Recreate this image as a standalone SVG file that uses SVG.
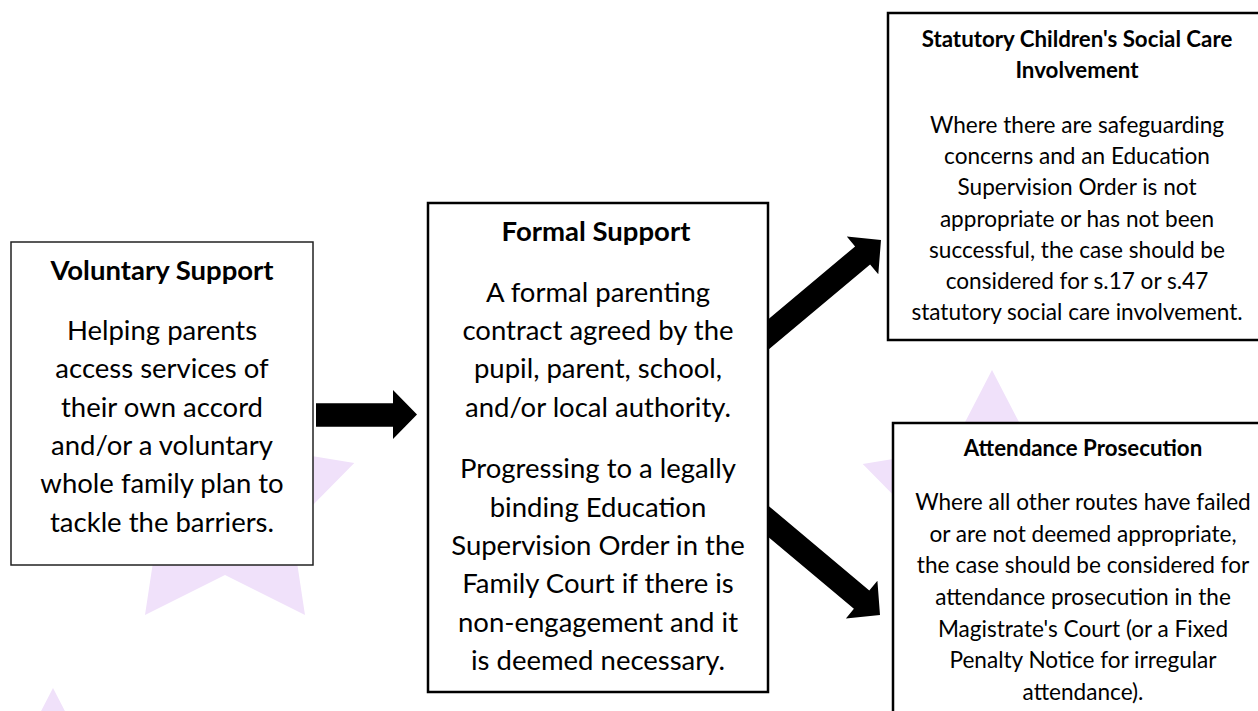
<svg xmlns="http://www.w3.org/2000/svg" width="1258" height="711" viewBox="0 0 1258 711">
  <style>
    .box { fill: #ffffff; stroke: #000000; stroke-width: 2.5; }
    .star { fill: #F0E1FA; stroke: none; }
    .arrow { fill: #000000; stroke: none; }
    text { font-family: Lato, "Liberation Sans", sans-serif; fill: #000000; text-anchor: middle; }
    .h1 { font-size: 27.5px; font-weight: bold; }
    .b1 { font-size: 27.5px; }
    .h2 { font-size: 22.3px; font-weight: bold; }
    .b2 { font-size: 22.6px; }
  </style>
  <defs>
    <polygon id="starShape" points="0,-136 41.1,-56.6 129.3,-42 66.6,21.6 80,110 0,70 -80,110 -66.6,21.6 -129.3,-42 -41.1,-56.6"/>
  </defs>
  <rect width="1258" height="711" fill="#ffffff"/>
  <g id="background">
    <use href="#starShape" class="star" transform="translate(225,505)"/>
    <use href="#starShape" class="star" transform="translate(992,506)"/>
    <use href="#starShape" class="star" transform="translate(53,824)"/>
  </g>
  <g id="connectors">
    <polygon class="arrow" points="316,403.3 393,403.3 393,390 417,414.5 393,439 393,426.7 316,426.7"/>
    <polygon class="arrow" points="768,319.5 855.1,246.4 846.8,236.6 881,240 878.3,274.2 870.1,264.4 768,350.1"/>
    <polygon class="arrow" points="768,505.4 869.3,590.4 877.4,580.8 880,615 845.9,618.4 853.9,608.8 768,536.7"/>
  </g>
  <g id="voluntary-support">
    <rect class="box" x="11" y="242" width="302" height="323" style="stroke-width:1.5;stroke:#222"/>
    <text class="h1" x="162" y="280">Voluntary Support</text>
    <text class="b1" x="162" y="340">Helping parents</text>
    <text class="b1" x="162" y="378">access services of</text>
    <text class="b1" x="162" y="417">their own accord</text>
    <text class="b1" x="162" y="455">and/or a voluntary</text>
    <text class="b1" x="162" y="493">whole family plan to</text>
    <text class="b1" x="162" y="532">tackle the barriers.</text>
  </g>
  <g id="formal-support">
    <rect class="box" x="428" y="203" width="340" height="489"/>
    <text class="h1" x="596" y="241">Formal Support</text>
    <text class="b1" x="598" y="302">A formal parenting</text>
    <text class="b1" x="598" y="340">contract agreed by the</text>
    <text class="b1" x="598" y="378">pupil, parent, school,</text>
    <text class="b1" x="598" y="417">and/or local authority.</text>
    <text class="b1" x="598" y="478">Progressing to a legally</text>
    <text class="b1" x="598" y="517">binding Education</text>
    <text class="b1" x="598" y="555">Supervision Order in the</text>
    <text class="b1" x="598" y="593">Family Court if there is</text>
    <text class="b1" x="598" y="632">non-engagement and it</text>
    <text class="b1" x="598" y="670">is deemed necessary.</text>
  </g>
  <g id="statutory-social-care">
    <rect class="box" x="888" y="13" width="385" height="327"/>
    <text class="h2" x="1077" y="47">Statutory Children's Social Care</text>
    <text class="h2" x="1077" y="78">Involvement</text>
    <text class="b2" x="1077" y="133">Where there are safeguarding</text>
    <text class="b2" x="1077" y="164">concerns and an Education</text>
    <text class="b2" x="1077" y="195">Supervision Order is not</text>
    <text class="b2" x="1077" y="227">appropriate or has not been</text>
    <text class="b2" x="1077" y="258">successful, the case should be</text>
    <text class="b2" x="1077" y="289">considered for s.17 or s.47</text>
    <text class="b2" x="1077" y="320">statutory social care involvement.</text>
  </g>
  <g id="attendance-prosecution">
    <rect class="box" x="893" y="423" width="385" height="310"/>
    <text class="h2" x="1083" y="456">Attendance Prosecution</text>
    <text class="b2" x="1083" y="510">Where all other routes have failed</text>
    <text class="b2" x="1083" y="542">or are not deemed appropriate,</text>
    <text class="b2" x="1083" y="573">the case should be considered for</text>
    <text class="b2" x="1083" y="605">attendance prosecution in the</text>
    <text class="b2" x="1083" y="637">Magistrate's Court (or a Fixed</text>
    <text class="b2" x="1083" y="668">Penalty Notice for irregular</text>
    <text class="b2" x="1083" y="700">attendance).</text>
  </g>
</svg>
